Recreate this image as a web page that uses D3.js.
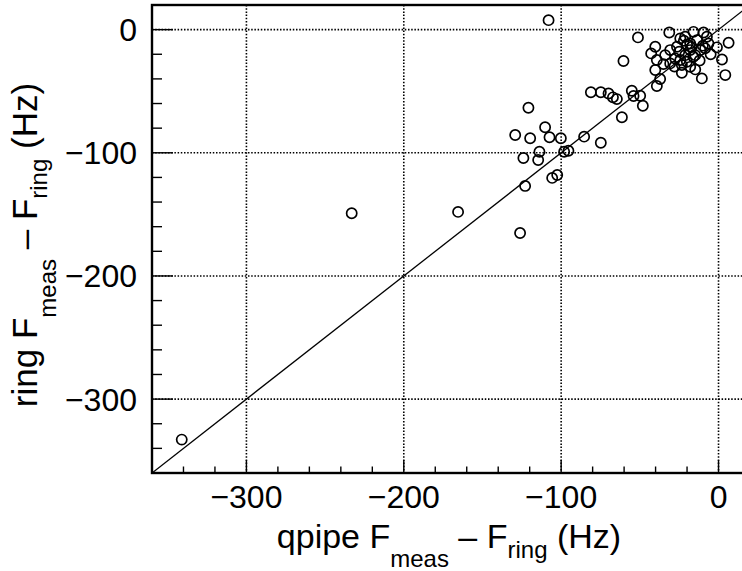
<!DOCTYPE html>
<html>
<head>
<meta charset="utf-8">
<script src="https://cdn.jsdelivr.net/npm/d3@7"></script>
<style>
  html, body { margin: 0; padding: 0; background: #fff; }
  svg { display: block; }
  text { font-family: "Liberation Sans", Arial, Helvetica, sans-serif; fill: #000; }
</style>
</head>
<body>
<svg id="chart" width="742" height="571"></svg>
<script>
// ---- data ----
const qpipeDiff = [
  -51.2, -31.3, -15.9, -9.5, 6.4, -1.0, 2.2, 4.3, -10.6, -14.8, -23.3, -60.4,
  -40.2, -42.8, -39.2, -40.2, -37.1, -39.2, -55.1, -54.0, -49.8, -48.1, -61.4,
  -24.3, -21.2, -18.0, -13.7, -7.4, -6.4, -8.5, -18.0, -21.2, -24.3, -20.1, -18.0,
  -30.7, -33.9, -30.7, -27.5, -26.4, -14.8, -11.6, -23.3,
  -20, -16, -25, -12, -5, -28, -35, -17, -22, -10,
  -129.2, -119.7, -110.2, -107.4, -100.2, -85.4, -74.8, -113.8, -124.0, -114.6,
  -98.1, -95.4, -120.8, -81.1, -74.8, -69.9, -67.1, -64.6, -108.0,
  -122.9, -105.7, -102.5, -126.1, -165.5, -233.1, -341.1
];
const ringDiff = [
  -6.3, -2.3, -1.8, -2.3, -10.7, -14.4, -24.2, -36.9, -39.6, -32.3, -35.0, -25.5,
  -13.9, -19.3, -24.7, -32.8, -40.1, -45.8, -49.6, -53.9, -53.7, -61.8, -71.2,
  -7.1, -5.8, -11.2, -8.5, -5.8, -11.2, -15.2, -16.6, -20.7, -24.7, -26.1, -30.2,
  -16.6, -20.7, -27.4, -23.4, -13.9, -20.7, -16.6, -28.8,
  -12, -22, -18, -25, -20, -30, -28, -14, -9, -13,
  -85.6, -88.2, -79.3, -87.4, -88.2, -86.9, -91.8, -99.1, -104.2, -105.8,
  -99.1, -98.3, -63.4, -50.9, -50.9, -51.8, -55.0, -56.4, 7.7,
  -126.9, -120.4, -118.0, -165.1, -148.0, -149.1, -332.9
];
const xDomain = [-360, 20];
const yDomain = [-360, 20];
const majorTicks = [-300, -200, -100, 0];
const tickLabels = ["\u2212300", "\u2212200", "\u2212100", "0"];

// ---- layout ----
const svg = d3.select("#chart");
const L = 152, R = 750, T = 5, B = 473;
const x = d3.scaleLinear().domain(xDomain).range([L, R]);
const y = d3.scaleLinear().domain(yDomain).range([B, T]);

svg.append("defs").append("clipPath").attr("id", "clip")
  .append("rect").attr("x", L).attr("y", T).attr("width", R - L).attr("height", B - T);

const minorTicks = d3.range(-360, 21, 20).filter(v => !majorTicks.includes(v));

// grid
const grid = svg.append("g").attr("stroke", "#000").attr("stroke-width", 1.6)
  .attr("stroke-dasharray", "1.5,1.7");
grid.selectAll(".gx").data(majorTicks).join("line")
  .attr("x1", d => x(d)).attr("x2", d => x(d)).attr("y1", T).attr("y2", B);
grid.selectAll(".gy").data(majorTicks).join("line")
  .attr("x1", L).attr("x2", R).attr("y1", d => y(d)).attr("y2", d => y(d));

// diagonal y = x
svg.append("line").attr("clip-path", "url(#clip)")
  .attr("x1", x(xDomain[0])).attr("y1", y(xDomain[0]))
  .attr("x2", x(xDomain[1])).attr("y2", y(xDomain[1]))
  .attr("stroke", "#000").attr("stroke-width", 1.3);

// points
svg.append("g").attr("clip-path", "url(#clip)")
  .selectAll("circle").data(qpipeDiff.map((v, i) => [v, ringDiff[i]])).join("circle")
  .attr("cx", d => x(d[0])).attr("cy", d => y(d[1])).attr("r", 5.1)
  .attr("fill", "none").attr("stroke", "#000").attr("stroke-width", 1.7);

// ticks
const tk = svg.append("g").attr("stroke", "#000").attr("stroke-width", 1.4);
tk.selectAll(".ty").data(majorTicks.map(v => [v, 21]).concat(minorTicks.map(v => [v, 10]))).join("line")
  .attr("x1", L).attr("x2", d => L + d[1]).attr("y1", d => y(d[0])).attr("y2", d => y(d[0]));
tk.selectAll(".tx").data(majorTicks.map(v => [v, 13]).concat(minorTicks.map(v => [v, 6.5]))).join("line")
  .attr("y1", B).attr("y2", d => B - d[1]).attr("x1", d => x(d[0])).attr("x2", d => x(d[0]));

// frame
svg.append("rect").attr("x", L).attr("y", T).attr("width", R - L).attr("height", B - T)
  .attr("fill", "none").attr("stroke", "#000").attr("stroke-width", 2.4);

// tick labels
svg.append("g").selectAll("text").data(majorTicks).join("text")
  .attr("x", d => x(d)).attr("y", 508).attr("text-anchor", "middle")
  .attr("font-size", 32).text((d, i) => tickLabels[i]);
svg.append("g").selectAll("text").data(majorTicks).join("text")
  .attr("x", 137).attr("y", d => y(d)).attr("dy", "0.36em").attr("text-anchor", "end")
  .attr("font-size", 32).text((d, i) => tickLabels[i]);

// axis titles
function title(sel, lead) {
  sel.append("tspan").text(lead + " F");
  sel.append("tspan").attr("font-size", 24).attr("dy", 19).text("meas");
  sel.append("tspan").attr("dy", -19).text(" \u2013 F");
  sel.append("tspan").attr("font-size", 24).attr("dy", 10).text("ring");
  sel.append("tspan").attr("dy", -10).text(" (Hz)");
}
const xt = svg.append("text").attr("x", 449).attr("y", 548)
  .attr("text-anchor", "middle").attr("font-size", 34);
title(xt, "qpipe");
const yt = svg.append("text").attr("transform", "translate(37,245) rotate(-90)")
  .attr("text-anchor", "middle").attr("font-size", 35);
title(yt, "ring");
</script>
</body>
</html>
